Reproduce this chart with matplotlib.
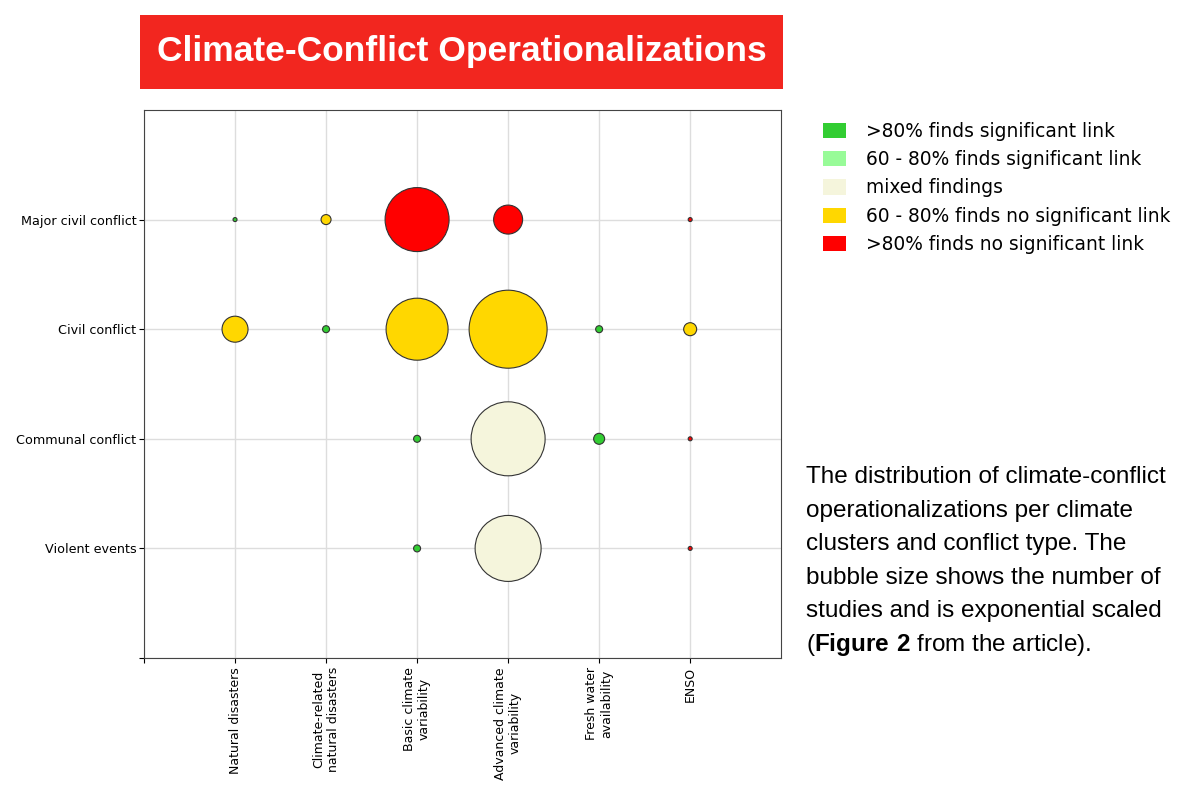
import matplotlib.pyplot as plt
from matplotlib.patches import Rectangle, Patch

# climate clusters (x) and conflict types (y)
climate = ["Natural disasters", "Climate-related\nnatural disasters", "Basic climate\nvariability",
           "Advanced climate\nvariability", "Fresh water\navailability", "ENSO"]
conflict = ["Violent events", "Communal conflict", "Civil conflict", "Major civil conflict"]

# bubbles: climate index, conflict index, bubble size (diameter, px), finding class
bub_x = [0, 1, 2, 3, 5,
         0, 1, 2, 3, 4, 5,
         2, 3, 4, 5,
         2, 3, 5]
bub_y = [3, 3, 3, 3, 3,
         2, 2, 2, 2, 2, 2,
         1, 1, 1, 1,
         0, 0, 0]
bub_size = [4, 10, 64, 29, 4,
            26, 7, 62, 78, 7, 13,
            7, 74, 11, 4,
            7, 66, 4]
bub_class = [0, 3, 4, 4, 4,
             3, 0, 3, 3, 0, 3,
             0, 2, 0, 4,
             0, 2, 4]

class_labels = [">80% finds significant link", "60 - 80% finds significant link", "mixed findings",
                "60 - 80% finds no significant link", ">80% finds no significant link"]
class_colors = ["#32CD32", "#98FB98", "#F5F5DC", "#FFD700", "#FF0000"]

caption_lines = ["The distribution of climate-conflict",
                 "operationalizations per climate",
                 "clusters and conflict type. The",
                 "bubble size shows the number of",
                 "studies and is exponential scaled",
                 r"($\bf{Figure\ 2}$ from the article)."]

plt.rcParams["mathtext.fontset"] = "custom"
plt.rcParams["mathtext.rm"] = "Liberation Sans"
plt.rcParams["mathtext.bf"] = "Liberation Sans:bold"

fig = plt.figure(figsize=(12, 8.08), dpi=100)

# title banner
fig.patches.append(Rectangle((0.1167, 0.8899), 0.5358, 0.0915, transform=fig.transFigure,
                             facecolor="#F2261F", edgecolor="none"))
fig.text(0.385, 0.936, "Climate-Conflict Operationalizations", color="white", fontsize=25.5,
         fontweight="bold", family="Liberation Sans", ha="center", va="center")

ax = fig.add_axes([0.12, 0.1856, 0.531, 0.6783])
ax.set_axisbelow(True)
ax.grid(True, color="#dddddd", linewidth=1)

xs = [i + 1 for i in bub_x]
ys = [j + 1 for j in bub_y]
sizes = [(d * 0.72) ** 2 for d in bub_size]
cols = [class_colors[c] for c in bub_class]
ax.scatter(xs, ys, s=sizes, c=cols, edgecolors="#333333", linewidths=0.8, zorder=3)

ax.set_xlim(0, 7)
ax.set_ylim(0, 5)
ax.set_xticks(range(0, 7))
ax.set_xticklabels([""] + climate, rotation=90, ha="center", va="top", multialignment="center",
                   fontsize=9.0)
ax.set_yticks(range(0, 5))
ax.set_yticklabels([""] + conflict, fontsize=9.2)
ax.tick_params(axis="x", pad=3)
ax.tick_params(axis="y", pad=2)
for s in ax.spines.values():
    s.set_color("#444444")

handles = [Patch(facecolor=c, edgecolor="none") for c in class_colors]
fig.legend(handles, class_labels, loc="upper left", bbox_to_anchor=(0.672, 0.87), frameon=False,
           fontsize=13.4, handlelength=1.25, handleheight=0.9, labelspacing=0.5, handletextpad=1.05)

for i, line in enumerate(caption_lines):
    fig.text(0.6717, 1 - (477 + i * 33.6) / 808, line, fontsize=17.5, family="Liberation Sans",
             ha="left", va="center")

fig.savefig("out.png", dpi=100)
